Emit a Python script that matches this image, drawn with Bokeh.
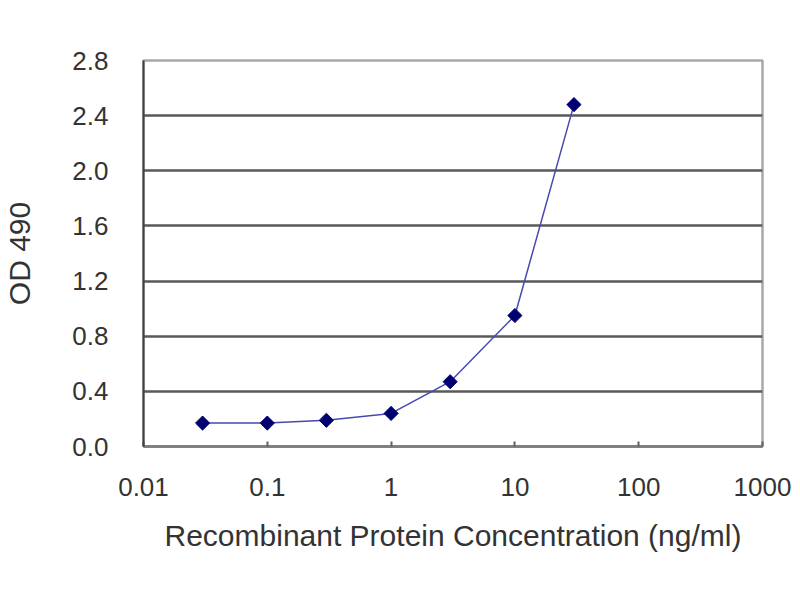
import math

from bokeh.embed import file_html
from bokeh.models import ColumnDataSource, FixedTicker
from bokeh.plotting import figure
from bokeh.resources import INLINE

# ELISA standard curve
concentration = [0.03, 0.1, 0.3, 1, 3, 10, 30]
od490 = [0.17, 0.17, 0.19, 0.24, 0.47, 0.95, 2.48]

x_ticks = [0.01, 0.1, 1, 10, 100, 1000]
x_tick_labels = ["0.01", "0.1", "1", "10", "100", "1000"]
y_ticks = [0.0, 0.4, 0.8, 1.2, 1.6, 2.0, 2.4, 2.8]
y_tick_labels = ["0.0", "0.4", "0.8", "1.2", "1.6", "2.0", "2.4", "2.8"]

FONT = "Liberation Sans"
TEXT = "#333333"

cds = ColumnDataSource(data=dict(x=concentration, y=od490))

p = figure(
    width=792,
    height=592,
    x_axis_type="log",
    x_range=(0.01, 1000),
    y_range=(0, 2.8),
    x_axis_label="Recombinant Protein Concentration (ng/ml)",
    y_axis_label="OD 490",
    output_backend="svg",
    toolbar_location=None,
    min_border_left=142,
    min_border_right=30,
    min_border_top=60,
    min_border_bottom=146,
)

p.line("x", "y", source=cds, color="#4848b0", line_width=1.5)
p.scatter(
    "x",
    "y",
    source=cds,
    marker="square",
    angle=math.pi / 4,
    size=10,
    color="#000070",
)

p.xaxis.ticker = FixedTicker(ticks=x_ticks, minor_ticks=[])
p.xaxis.major_label_overrides = dict(zip(x_ticks, x_tick_labels))
p.yaxis.ticker = FixedTicker(ticks=y_ticks, minor_ticks=[])
p.yaxis.major_label_overrides = dict(zip(y_ticks, y_tick_labels))

p.xgrid.visible = False
p.ygrid.ticker = FixedTicker(ticks=y_ticks[1:-1])
p.ygrid.grid_line_color = "#5a5a5a"
p.ygrid.grid_line_width = 2.5

p.outline_line_color = "#a8a8a8"
p.outline_line_width = 2.5

p.xaxis.axis_line_color = "#808080"
p.xaxis.axis_line_width = 3
p.xaxis.major_tick_in = 5
p.xaxis.major_tick_out = 0
p.xaxis.major_tick_line_color = "#606060"
p.xaxis.major_tick_line_width = 2
p.xaxis.major_label_standoff = 31
p.xaxis.axis_label_standoff = 20

p.yaxis.axis_line_color = "#404040"
p.yaxis.axis_line_width = 2
p.yaxis.major_tick_in = 0
p.yaxis.major_tick_out = 0
p.yaxis.major_label_standoff = 35
p.yaxis.axis_label_standoff = 33

for ax in (p.xaxis, p.yaxis):
    ax.major_label_text_font = FONT
    ax.major_label_text_font_size = "26px"
    ax.major_label_text_color = TEXT
    ax.axis_label_text_font = FONT
    ax.axis_label_text_font_size = "30px"
    ax.axis_label_text_font_style = "normal"
    ax.axis_label_text_color = TEXT
    ax.minor_tick_line_color = None

open("out.html", "w").write(file_html(p, INLINE))
